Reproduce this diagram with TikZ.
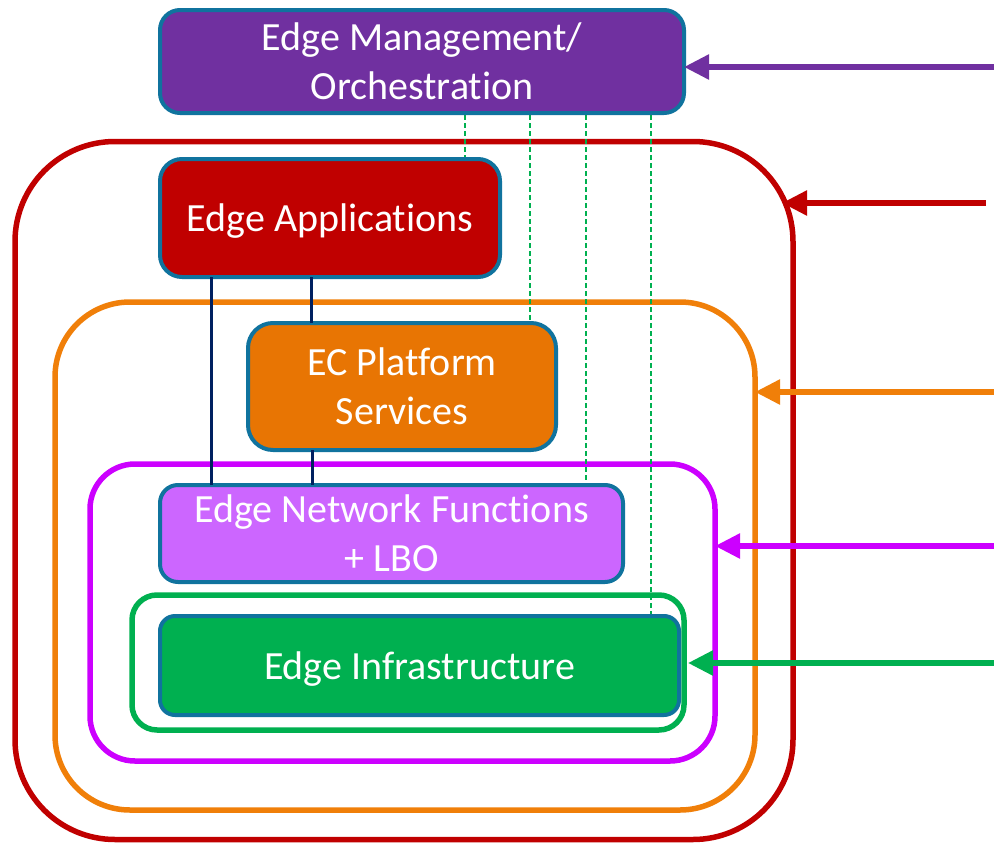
\documentclass[tikz,border=0pt]{standalone}
\usepackage{fontspec}
\setmainfont{Carlito}[Ligatures=NoCommon]
\usetikzlibrary{arrows.meta}

\definecolor{mgmtpurple}{HTML}{7030A0}
\definecolor{appred}{HTML}{C00000}
\definecolor{platorange}{HTML}{E87503}
\definecolor{layerorange}{HTML}{F07F09}
\definecolor{nfviolet}{HTML}{CC66FF}
\definecolor{nfmagenta}{HTML}{CC00FF}
\definecolor{infragreen}{HTML}{00B050}
\definecolor{boxblue}{HTML}{10739E}
\definecolor{linknavy}{HTML}{002060}

\begin{document}
\begin{tikzpicture}[x=1pt, y=-1pt,
  every node/.style={font=\fontsize{40}{49}\selectfont, text=white, align=center},
  box/.style={draw=boxblue, line width=4pt, rounded corners=20pt, inner sep=0pt, outer sep=0pt},
  layer/.style={draw, line width=5.5pt, inner sep=0pt, outer sep=0pt},
  feed/.style={line width=5.5pt, -{Triangle[length=25pt, width=24pt]}},
  sync/.style={infragreen, line width=1.5pt, dash pattern=on 5pt off 3pt},
  link/.style={linknavy, line width=3pt}]

\useasboundingbox (0,0) rectangle (994,844);

% nested layers
\node[layer, appred, rounded corners=100pt, minimum width=778pt, minimum height=698pt] (redlayer) at (404,490.5) {};
\node[layer, layerorange, rounded corners=75pt, minimum width=700pt, minimum height=508pt] (orangelayer) at (405,556) {};
\node[layer, nfmagenta, rounded corners=45pt, minimum width=625pt, minimum height=297pt] (magentalayer) at (402.5,612.5) {};
\node[layer, infragreen, rounded corners=25pt, minimum width=552pt, minimum height=135pt] (greenlayer) at (408,662.5) {};

% coordinates where the arrows come in
\coordinate (mgmtsrc) at (994,67);
\coordinate (appsrc) at (986,203);
\coordinate (platsrc) at (994,392);
\coordinate (nfsrc) at (994,546);
\coordinate (infrasrc) at (994,663);

% management links (dashed)
\coordinate (mgmtbase) at (422,115);
\draw[sync] ([xshift=43pt]mgmtbase) -- ++(0,50);
\draw[sync] ([xshift=108pt]mgmtbase) -- ++(0,210);
\draw[sync] ([xshift=164pt]mgmtbase) -- ++(0,372);
\draw[sync] ([xshift=229pt]mgmtbase) -- ++(0,503);

% boxes
\node[box, fill=mgmtpurple, minimum width=524pt, minimum height=103pt] (mgmt) at (422,61.5) {Edge Management/\\Orchestration};
\node[box, fill=appred, rounded corners=22pt, text depth=0pt, minimum width=340pt, minimum height=118pt] (apps) at (330,218) {Edge Applications};
\node[box, fill=platorange, rounded corners=25pt, minimum width=308pt, minimum height=127pt] (platform) at (402,386.5) {EC Platform\\Services};
\node[box, fill=nfviolet, rounded corners=18pt, minimum width=463pt, minimum height=97pt] (netfn) at (391.5,533.5) {Edge Network Functions\\+ LBO};
\node[box, fill=infragreen, rounded corners=15pt, text depth=0pt, minimum width=519pt, minimum height=99pt] (infra) at (419.5,665.5) {Edge Infrastructure};

% application links
\draw[link] ([xshift=-119pt]apps.south) -- ([xshift=-119pt]apps.south |- netfn.north);
\draw[link] ([xshift=-19pt]apps.south) -- ([xshift=-19pt]apps.south |- platform.north);
\draw[link] ([xshift=-90pt]platform.south) -- ([xshift=-90pt]platform.south |- netfn.north);

% incoming arrows
\draw[feed, mgmtpurple] (mgmtsrc) -- (mgmtsrc -| mgmt.east);
\draw[feed, appred] (appsrc) -- ([xshift=-11pt]appsrc -| redlayer.east);
\draw[feed, layerorange] (platsrc) -- (platsrc -| orangelayer.east);
\draw[feed, nfmagenta] (nfsrc) -- (nfsrc -| magentalayer.east);
\draw[feed, infragreen] (infrasrc) -- ([xshift=4pt]infrasrc -| greenlayer.east);

\end{tikzpicture}
\end{document}
